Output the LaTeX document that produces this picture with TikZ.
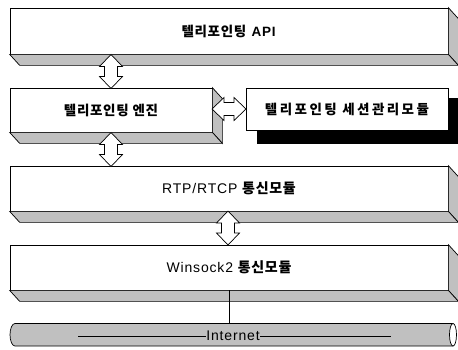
\documentclass[tikz,border=0pt]{standalone}
\usepackage{fontspec}
\setmainfont{Liberation Sans}[LetterSpace=6]
\newfontfamily\kr[LetterSpace=5]{Noto Sans CJK KR}
\usetikzlibrary{calc}
\definecolor{bevel}{RGB}{192,192,192}
\tikzset{
  layer/.style={draw, fill=white, line width=0.7pt, inner sep=0pt,
                font=\fontsize{13.5}{16}\selectfont},
  side/.style={draw, fill=bevel, line width=0.7pt},
  dblarr/.pic={
    \draw[fill=white, line width=0.7pt] (0,-17) -- (11.5,-5) -- (6.5,-5) -- (6.5,5) -- (11.5,5) -- (0,17)
      -- (-11.5,5) -- (-6.5,5) -- (-6.5,-5) -- (-11.5,-5) -- cycle;
  },
}
\newcommand{\hg}[1]{{\kr\bfseries #1}}

\begin{document}
\begin{tikzpicture}[x=1pt,y=-1pt]
  \useasboundingbox (0,0) rectangle (458,349);
  % layers
  \fill[black] (257,98) rectangle (458,144);
  \node[layer, minimum width=438, minimum height=46] (api)    at (229,31)    {\hg{텔리포인팅} \textbf{API}};
  \node[layer, minimum width=202, minimum height=44] (engine) at (111,110)   {\hg{텔리포인팅 엔진}};
  \node[layer, minimum width=202, minimum height=42] (sess)   at (347,109)   {\hg{\addfontfeatures{LetterSpace=18}텔리포인팅 세션관리모듈}};
  \node[layer, minimum width=438, minimum height=45] (rtp)    at (229,188.5) {\fontsize{14}{16}\selectfont RTP/RTCP \hg{통신모듈}};
  \node[layer, minimum width=438, minimum height=45] (wsock)  at (229,267.5) {\fontsize{14}{16}\selectfont Winsock2 \hg{통신모듈}};
  % bevels
  \draw[side] (api.north east) -- ($(api.north east)+(10,11)$) -- ($(api.south east)+(10,11)$) -- (api.south east) -- cycle;
  \draw[side] (api.south west) -- ($(api.south west)+(10,11)$) -- ($(api.south east)+(10,11)$) -- (api.south east) -- cycle;
  \draw[side] (engine.north east) -- ($(engine.north east)+(10,11)$) -- ($(engine.south east)+(10,11)$) -- (engine.south east) -- cycle;
  \draw[side] (engine.south west) -- ($(engine.south west)+(10,11)$) -- ($(engine.south east)+(10,11)$) -- (engine.south east) -- cycle;
  \draw[side] (rtp.north east) -- ($(rtp.north east)+(10,11)$) -- ($(rtp.south east)+(10,11)$) -- (rtp.south east) -- cycle;
  \draw[side] (rtp.south west) -- ($(rtp.south west)+(10,11)$) -- ($(rtp.south east)+(10,11)$) -- (rtp.south east) -- cycle;
  \draw[side] (wsock.north east) -- ($(wsock.north east)+(10,11)$) -- ($(wsock.south east)+(10,11)$) -- (wsock.south east) -- cycle;
  \draw[side] (wsock.south west) -- ($(wsock.south west)+(10,11)$) -- ($(wsock.south east)+(10,11)$) -- (wsock.south east) -- cycle;
  % arrows
  \pic at (111,71.5)  {dblarr};
  \pic at (111,149.5) {dblarr};
  \pic at (228,228)   {dblarr};
  \pic[rotate=90] at (229,109) {dblarr};
  % network
  \draw[side] (453,323.5) -- (15,323.5) arc[start angle=270, end angle=90, x radius=5, y radius=11.25] -- (453,346) -- cycle;
  \draw[fill=white, line width=0.7pt] (453,334.75) ellipse[x radius=3.5, y radius=11.25];
  \coordinate (net) at (229,323.5);
  \draw[line width=0.7pt] (wsock.south -| net) -- (net);
  \node[font=\fontsize{14}{16}\selectfont, inner sep=0.5pt] (inet) at (233,336) {Internet};
  \coordinate (lineL) at (78,336);
  \coordinate (lineR) at (391,336);
  \draw[line width=0.7pt] (lineL) -- (inet.west);
  \draw[line width=0.7pt] (inet.east) -- (lineR);
\end{tikzpicture}
\end{document}
